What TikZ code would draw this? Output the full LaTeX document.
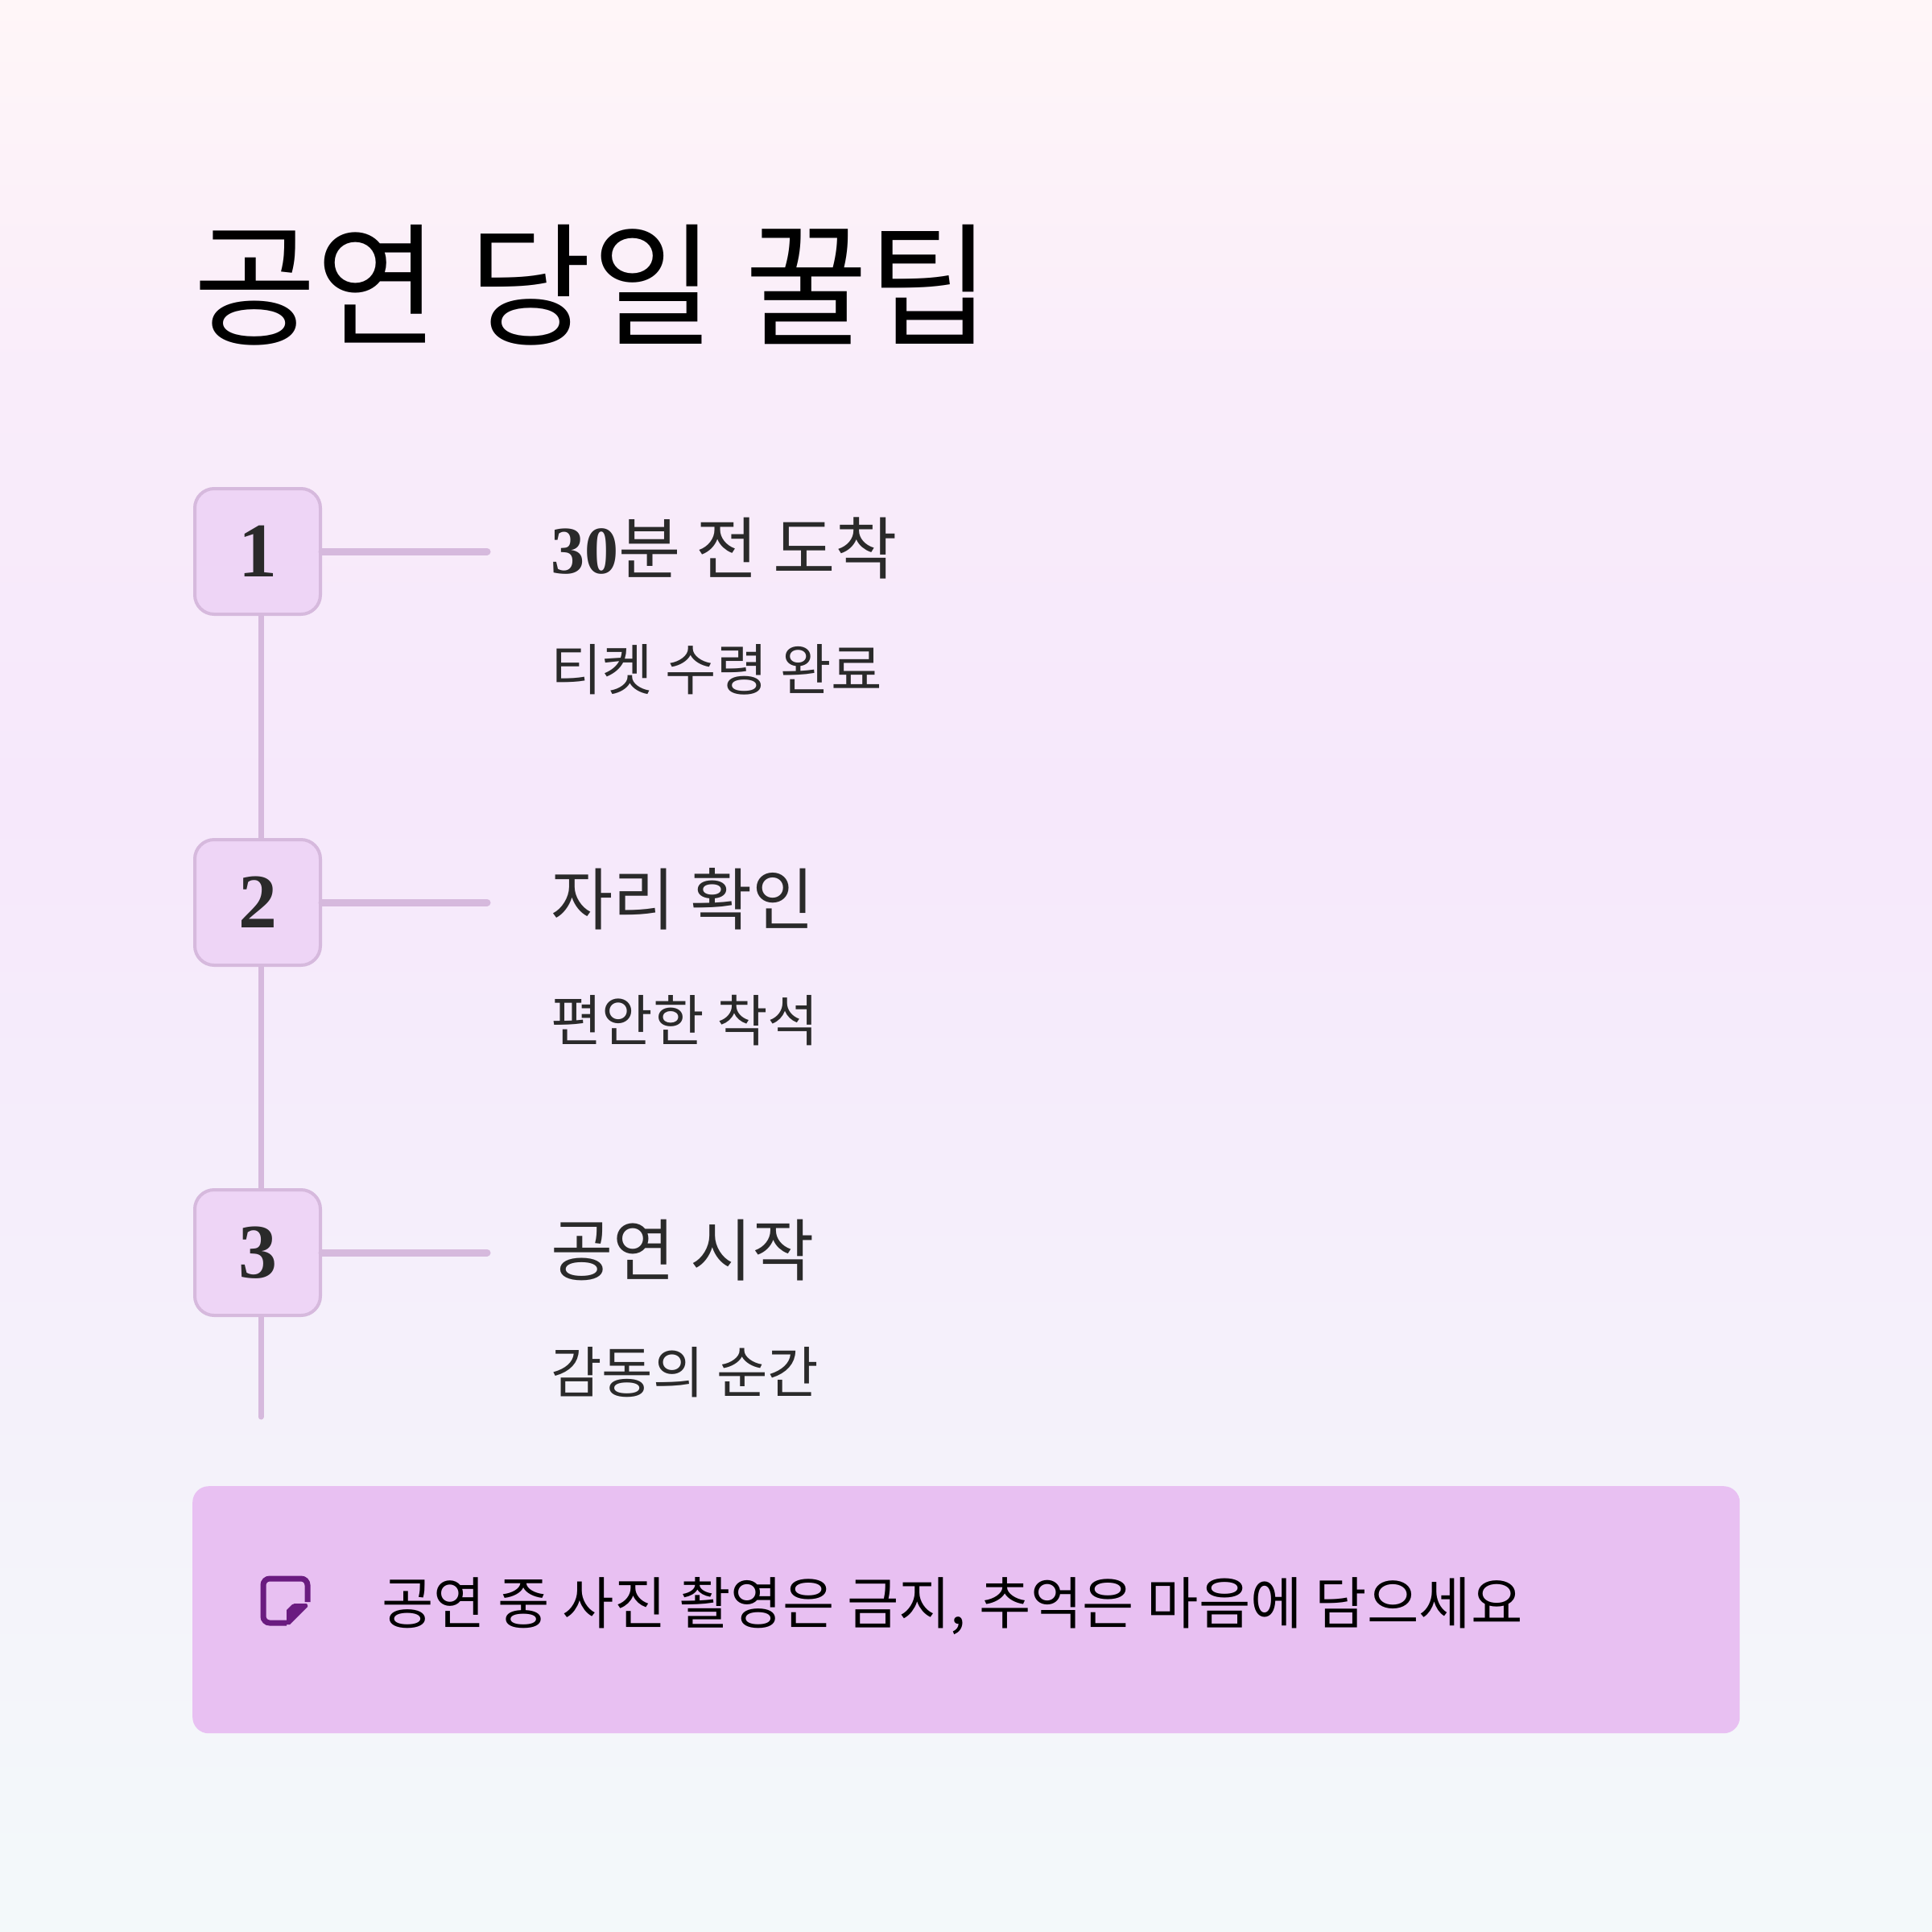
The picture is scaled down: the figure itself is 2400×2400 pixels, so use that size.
\documentclass[tikz,border=0pt]{standalone}
\usepackage{fontspec}
\setmainfont{Noto Sans CJK KR}
\newfontfamily\numfont{Liberation Serif}
\usetikzlibrary{positioning}
\definecolor{bgtop}{HTML}{FFF6F8}
\definecolor{bgmid}{HTML}{F6E8FB}
\definecolor{bgbot}{HTML}{F3F9FA}
\definecolor{linec}{HTML}{D6B9DD}
\definecolor{boxfill}{HTML}{EED5F6}
\definecolor{txt}{HTML}{2A2A2A}
\definecolor{notefill}{HTML}{E8C0F2}
\definecolor{iconc}{HTML}{6A1B80}
\tikzset{
  numbox/.style={draw=linec, line width=4pt, fill=boxfill, rounded corners=24pt, minimum width=156pt, minimum height=156pt, inner sep=0pt, font=\numfont\bfseries\fontsize{96}{96}\selectfont, text=txt},
  steptitle/.style={anchor=base west, inner sep=0pt, text=txt, font=\fontsize{84}{84}\selectfont},
  stepsub/.style={anchor=base west, inner sep=0pt, text=txt, font=\fontsize{69}{69}\selectfont},
  conn/.style={draw=linec, line width=9pt, line cap=round},
  vconn/.style={draw=linec, line width=7pt, line cap=round}
}
\begin{document}
\begin{tikzpicture}[x=1pt,y=1pt]
\useasboundingbox (0,0) rectangle (2400,-2400);
\shade[top color=bgtop, bottom color=bgmid, middle color=bgmid!70!bgtop] (0,0) rectangle (2400,-1000);
\shade[top color=bgmid, bottom color=bgbot] (0,-1000) rectangle (2400,-2400);
\node[anchor=base west, inner sep=0pt, font=\fontsize{166}{166}\selectfont, text=black] (title) at (240,-416) {공연 당일 꿀팁};
% boxes
\node[numbox] (b1) at (320,-685) {1};
\node[numbox] (b2) at (320,-1121) {2};
\node[numbox] (b3) at (320,-1556) {3};
\coordinate (e1) at (605,-685);
\coordinate (e2) at (605,-1121);
\coordinate (e3) at (605,-1556);
\coordinate (vend) at (324,-1760);
\draw[vconn] (b1.south -| vend) -- (b2.north -| vend);
\draw[vconn] (b2.south -| vend) -- (b3.north -| vend);
\draw[vconn] (b3.south -| vend) -- (vend);
\draw[conn] (b1.east) -- (e1);
\draw[conn] (b2.east) -- (e2);
\draw[conn] (b3.east) -- (e3);
\node[steptitle] (t1) at (684,-712) {{\numfont\bfseries 30}분 전 도착};
\node[stepsub] (s1) at (684,-857) {티켓 수령 완료};
\node[steptitle] (t2) at (684,-1148) {자리 확인};
\node[stepsub] (s2) at (684,-1293) {편안한 착석};
\node[steptitle] (t3) at (684,-1584) {공연 시작};
\node[stepsub] (s3) at (684,-1730) {감동의 순간};
% note
\node[fill=notefill, rounded corners=20pt, minimum width=1922pt, minimum height=307pt, anchor=north west, inner sep=0pt] (note) at (239,-1846) {};
\node[anchor=base west, inner sep=0pt, text=black, font=\fontsize{70}{70}\selectfont] (notetext) at (474,-2017) {공연 중 사진 촬영은 금지, 추억은 마음에 담으세요};
\draw[iconc, line width=7pt, rounded corners=8pt] (382,-1990) -- (382,-1961) -- (327,-1961) -- (327,-2016) -- (356,-2016);
\fill[iconc] (382,-1992) -- (382,-1996) -- (360,-2018) -- (356,-2018) -- (356,-2000) [rounded corners=2pt]-- (364,-1992) -- cycle;
\end{tikzpicture}
\end{document}
